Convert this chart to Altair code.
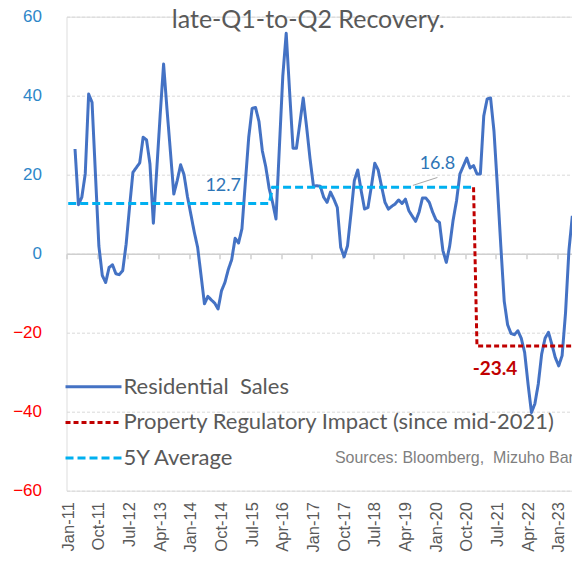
import altair as alt
import pandas as pd

# ---------------- data ----------------
tick_labels = ["Jan-11", "Oct-11", "Jul-12", "Apr-13", "Jan-14", "Oct-14", "Jul-15",
               "Apr-16", "Jan-17", "Oct-17", "Jul-18", "Apr-19", "Jan-20", "Oct-20",
               "Jul-21", "Apr-22", "Jan-23"]
y_ticks = [-60, -40, -20, 0, 20, 40, 60]

# Residential sales (YoY %), monthly from Mar-2011
sales_start = "2011-03"
sales_values = [
    26.5, 12.4, 14.3, 20.2, 40.4, 38.3, 20.0, 2.0, -5.5, -7.3,
    -3.5, -2.8, -5.1, -5.3, -4.3, 2.4, 11.7, 20.6, 21.8, 23.0,
    29.5, 28.8, 22.7, 7.7, 21.4, 35.1, 48.0, 36.6, 25.9, 15.1,
    18.5, 22.5, 20.0, 14.5, 10.0, 5.5, 1.6, -5.5, -12.7, -10.8,
    -11.7, -12.5, -14.0, -9.4, -7.3, -4.0, -1.5, 3.9, 2.7, 6.3,
    18.0, 29.5, 36.8, 37.0, 33.5, 26.0, 22.0, 16.5, 13.0, 8.8,
    27.0, 45.0, 55.8, 41.0, 26.7, 26.7, 33.0, 39.4, 32.0, 24.0,
    17.1, 17.2, 17.1, 14.3, 13.0, 15.6, 13.8, 11.7, 1.6, -0.8,
    2.0, 10.0, 18.5, 21.2, 16.0, 11.3, 11.7, 17.0, 22.9, 21.2,
    17.0, 13.0, 11.3, 12.0, 12.6, 13.6, 12.7, 13.8, 10.9, 9.5,
    8.2, 10.5, 14.1, 14.1, 13.0, 10.5, 8.5, 7.9, 0.8, -2.2,
    2.0, 8.5, 13.4, 20.2, 22.2, 24.2, 21.7, 22.3, 20.2, 20.2,
    34.9, 39.2, 39.4, 31.0, 17.0, 2.0, -12.0, -18.0, -20.2, -20.5,
    -19.5, -21.4, -25.0, -33.0, -40.2, -38.0, -33.0, -25.4, -21.4, -19.9,
    -23.0, -26.3, -28.4, -25.8, -15.0, 0.8, 9.6,
]

# 5Y average
avg_months = ["2011-01", "2015-12", "2016-01", "2020-12"]
avg_values = [12.7, 12.7, 16.8, 16.8]

# Property regulatory impact
reg_months = ["2020-12", "2021-01", "2023-06"]
reg_values = [16.8, -23.4, -23.4]

series_names = ["Residential\u00a0 Sales", "Property Regulatory Impact (since mid-2021)", "5Y Average"]
series_colors = ["#4472C4", "#C00000", "#00B0F0"]
series_dashes = [[1, 0], [5, 3], [8, 4]]

# value labels (text, position in month / value space)
blue_label_text = ["12.7", "16.8"]
blue_label_month = [45.5, 108.4]
blue_label_pos = [17.1, 22.6]
red_label_text = ["-23.4"]
red_label_month = [125.3]
red_label_pos = [-29.2]
leader_m = [101.2]
leader_m2 = [108.4]
leader_v = [17.3]
leader_v2 = [19.3]
source_text = ["Sources: Bloomberg,\u00a0 Mizuho Bank"]
source_month = [78.3]
source_pos = [-51.8]

title_text = "late-Q1-to-Q2 Recovery."

# ---------------- helpers ----------------
MON = {"Jan": 1, "Feb": 2, "Mar": 3, "Apr": 4, "May": 5, "Jun": 6, "Jul": 7,
       "Aug": 8, "Sep": 9, "Oct": 10, "Nov": 11, "Dec": 12}


def idx_ym(s):
    y, m = s.split("-")
    return (int(y) - 2011) * 12 + int(m) - 1


def idx_label(s):
    mon, yy = s.split("-")
    return (2000 + int(yy) - 2011) * 12 + MON[mon] - 1


start = idx_ym(sales_start)
sales_df = pd.DataFrame({
    "m": [start + i for i in range(len(sales_values))],
    "v": sales_values,
    "series": series_names[0],
})
ref_df = pd.concat([
    pd.DataFrame({"m": [idx_ym(s) for s in reg_months], "v": reg_values, "series": series_names[1]}),
    pd.DataFrame({"m": [idx_ym(s) for s in avg_months], "v": avg_values, "series": series_names[2]}),
])

tick_vals = [idx_label(s) for s in tick_labels]
boundary_vals = [t - 0.5 for t in tick_vals]
label_expr = "[" + ",".join("'%s'" % s for s in tick_labels) + "][round(datum.value / 9)]"

PLOT_W = 505.5
PLOT_H = 474

X_SCALE = alt.Scale(domain=[-0.5, 147.9], nice=False, zero=False)
Y_SCALE = alt.Scale(domain=[-60, 60], nice=False, zero=False)

Y_AXIS = alt.Axis(values=y_ticks, title=None, domain=False, ticks=False, labelPadding=25,
                  labelFont="Liberation Sans", labelFontSize=17,
                  labelColor={"condition": {"test": "datum.value < 0", "value": "#FF0000"},
                              "value": "#2E86C8"},
                  grid=True, gridColor="#D9D9D9", gridDash=[3, 2], gridWidth=1)
X_AXIS_LABELS = alt.Axis(values=tick_vals, labelExpr=label_expr, labelAngle=-90, labelPadding=11,
                         labelFont="Liberation Sans", labelFontSize=16.5, labelColor="#595959",
                         domain=False, ticks=False, grid=False, title=None, orient="bottom",
                         labelOverlap=False)
X_AXIS_ZERO = alt.Axis(values=boundary_vals, labels=False, domain=True, domainColor="#D0D0D0",
                       domainWidth=1.5, ticks=True, tickColor="#D0D0D0", tickWidth=1.5, tickSize=5,
                       grid=False, title=None, orient="bottom", offset=-PLOT_H / 2)

# legend symbol: a long horizontal stroke (custom path, 10 units wide at size 11.2^2 -> 56 px)
LEGEND = alt.Legend(orient="none", legendX=16, legendY=359, title=None,
                    symbolType="M-5,0H5", symbolSize=125.4, symbolStrokeWidth=3,
                    symbolFillColor="transparent",
                    labelFont="Lato", labelFontSize=22, labelColor="#595959",
                    labelOffset=19, rowPadding=13.7, padding=0, labelLimit=700)

color_enc = alt.Color("series:N", scale=alt.Scale(domain=series_names, range=series_colors), legend=LEGEND)
dash_enc = alt.StrokeDash("series:N", scale=alt.Scale(domain=series_names, range=series_dashes), legend=LEGEND)


def yenc():
    return alt.Y("v:Q", scale=Y_SCALE, axis=Y_AXIS)


sales = alt.Chart(sales_df).mark_line(clip=True, strokeWidth=3, strokeJoin="round").encode(
    x=alt.X("m:Q", scale=X_SCALE, axis=X_AXIS_LABELS),
    y=yenc(),
    color=color_enc,
    strokeDash=dash_enc,
)

refs = alt.Chart(ref_df).mark_line(clip=True, strokeWidth=3).encode(
    x=alt.X("m:Q", scale=X_SCALE, axis=None),
    y=yenc(),
    color=color_enc,
    strokeDash=dash_enc,
    detail="series:N",
)

leader = alt.Chart(pd.DataFrame({"m": leader_m, "m2": leader_m2, "v": leader_v, "v2": leader_v2})).mark_rule(
    color="#A6A6A6", strokeWidth=1).encode(
    x=alt.X("m:Q", scale=X_SCALE, axis=X_AXIS_ZERO),
    x2="m2:Q",
    y=yenc(),
    y2="v2:Q",
)

blue_labels = alt.Chart(pd.DataFrame({"m": blue_label_month, "v": blue_label_pos, "t": blue_label_text})).mark_text(
    font="Lato", fontSize=18, color="#2E75B6", align="center", baseline="middle").encode(
    x=alt.X("m:Q", scale=X_SCALE, axis=None),
    y=yenc(),
    text="t:N",
)

red_labels = alt.Chart(pd.DataFrame({"m": red_label_month, "v": red_label_pos, "t": red_label_text})).mark_text(
    font="Lato", fontSize=19, fontWeight="bold", color="#C00000", align="center", baseline="middle").encode(
    x=alt.X("m:Q", scale=X_SCALE, axis=None),
    y=yenc(),
    text="t:N",
)

source = alt.Chart(pd.DataFrame({"m": source_month, "v": source_pos, "t": source_text})).mark_text(
    font="Liberation Sans", fontSize=16, color="#7F7F7F", align="left", baseline="middle").encode(
    x=alt.X("m:Q", scale=X_SCALE, axis=None),
    y=yenc(),
    text="t:N",
)

chart = alt.layer(sales, refs, leader, blue_labels, red_labels, source).resolve_axis(
    x="independent"
).properties(
    width=PLOT_W,
    height=PLOT_H,
    padding={"left": 58.5, "top": 8.7, "right": 0, "bottom": 62},
    autosize=alt.AutoSizeParams(type="none"),
    title=alt.TitleParams(title_text, font="Lato", fontSize=25, fontWeight="normal", color="#595959",
                          anchor="middle", frame="group", dx=-11, dy=25, offset=0),
).configure_view(stroke=None).configure(background="white")

chart.save("out.html", embed_options={"renderer": "svg", "actions": False})
